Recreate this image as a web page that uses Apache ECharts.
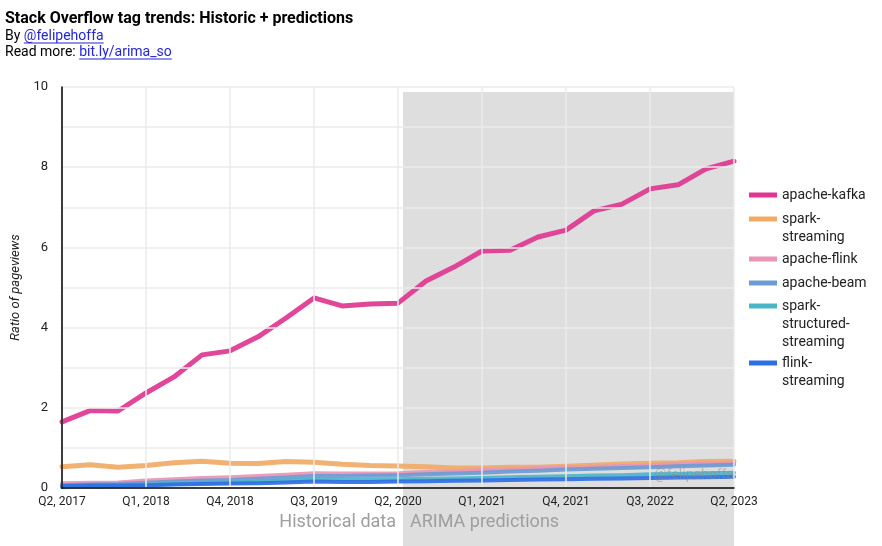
<!DOCTYPE html>
<html>
<head>
<meta charset="utf-8">
<script src="https://cdn.jsdelivr.net/npm/echarts@6/dist/echarts.min.js"></script>
<style>
  html, body { margin: 0; padding: 0; background: #fff; }
  #chart { width: 882px; height: 546px; }
</style>
</head>
<body>
<div id="chart"></div>
<script>
const quarters = [
    "Q2, 2017", "Q3, 2017", "Q4, 2017", "Q1, 2018", "Q2, 2018", "Q3, 2018",
    "Q4, 2018", "Q1, 2019", "Q2, 2019", "Q3, 2019", "Q4, 2019", "Q1, 2020",
    "Q2, 2020", "Q3, 2020", "Q4, 2020", "Q1, 2021", "Q2, 2021", "Q3, 2021",
    "Q4, 2021", "Q1, 2022", "Q2, 2022", "Q3, 2022", "Q4, 2022", "Q1, 2023",
    "Q2, 2023",
];
const apacheKafka = [
    1.65, 1.93, 1.92, 2.37, 2.77, 3.32, 3.42, 3.77, 4.24, 4.74, 4.54, 4.59,
    4.61, 5.16, 5.51, 5.91, 5.93, 6.26, 6.43, 6.91, 7.08, 7.46, 7.56, 7.96, 8.15,
];
const sparkStreaming = [
    0.53, 0.58, 0.52, 0.56, 0.63, 0.67, 0.62, 0.61, 0.66, 0.64, 0.59, 0.56,
    0.55, 0.53, 0.5, 0.5, 0.52, 0.52, 0.54, 0.57, 0.6, 0.62, 0.63, 0.66, 0.67,
];
const apacheFlink = [
    0.12, 0.13, 0.14, 0.19, 0.22, 0.25, 0.27, 0.3, 0.33, 0.37, 0.36, 0.36,
    0.37, 0.4, 0.42, 0.45, 0.47, 0.49, 0.51, 0.53, 0.55, 0.57, 0.59, 0.61, 0.63,
];
const apacheBeam = [
    0.07, 0.09, 0.1, 0.13, 0.16, 0.19, 0.2, 0.23, 0.26, 0.3, 0.3, 0.31,
    0.32, 0.34, 0.36, 0.38, 0.41, 0.43, 0.46, 0.48, 0.5, 0.52, 0.54, 0.56, 0.58,
];
const sparkStructuredStreaming = [
    0.02, 0.04, 0.05, 0.08, 0.1, 0.13, 0.14, 0.16, 0.19, 0.22, 0.21, 0.22,
    0.22, 0.23, 0.24, 0.25, 0.27, 0.28, 0.29, 0.31, 0.32, 0.34, 0.35, 0.37, 0.38,
];
const flinkStreaming = [
    0.05, 0.06, 0.06, 0.07, 0.09, 0.1, 0.11, 0.12, 0.14, 0.16, 0.15, 0.15,
    0.16, 0.17, 0.18, 0.19, 0.2, 0.21, 0.22, 0.23, 0.24, 0.25, 0.26, 0.27, 0.28,
];
const yTicks = [0, 2, 4, 6, 8, 10];

// legend entries: name, wrapped label, top of first text line
const legendItems = [
    ["apache-kafka", "apache-kafka", 186],
    ["spark-streaming", "spark-\nstreaming", 210],
    ["apache-flink", "apache-flink", 250],
    ["apache-beam", "apache-beam", 274],
    ["spark-structured-streaming", "spark-\nstructured-\nstreaming", 297],
    ["flink-streaming", "flink-\nstreaming", 354],
];

function lineSeries(name, data, color, width) {
    return {
        name: name,
        type: "line",
        data: data,
        showSymbol: false,
        symbol: "none",
        color: color,
        lineStyle: { width: width, color: color, opacity: 0.92, join: "round", cap: "round" },
        emphasis: { disabled: true },
    };
}

const font = "Roboto, sans-serif";
const LINE_H = 18;

// one legend per entry; blank lines on top keep the swatch beside the first text line
const legends = legendItems.map(([name, label, top]) => {
    const extraLines = label.split("\n").length - 1;
    const padded = "\n".repeat(extraLines) + label;
    return {
        orient: "vertical",
        left: 749,
        top: top - extraLines * LINE_H,
        padding: 0,
        itemWidth: 28,
        itemHeight: 5,
        icon: "rect",
        data: [name],
        selectedMode: false,
        formatter: () => padded,
        textStyle: { fontSize: 14, color: "#222", lineHeight: LINE_H, fontFamily: font },
    };
});

const chart = echarts.init(document.querySelector("#chart"));
chart.setOption({
    animation: false,
    textStyle: { fontFamily: font },
    grid: { left: 62, right: 148, top: 87, bottom: 58 },
    legend: legends,
    xAxis: {
        type: "category",
        data: quarters,
        boundaryGap: false,
        axisLine: { lineStyle: { color: "#000", width: 1.5 } },
        axisTick: { show: false },
        axisLabel: { interval: 2, color: "#222", fontSize: 12, margin: 8 },
        splitLine: { show: true, interval: 2, lineStyle: { color: "#ebebeb", width: 1.5 } },
        z: 5,
    },
    yAxis: {
        type: "value",
        min: yTicks[0],
        max: yTicks[yTicks.length - 1],
        interval: 2,
        name: "Ratio of pageviews",
        nameLocation: "middle",
        nameGap: 38,
        nameTextStyle: { fontStyle: "italic", fontSize: 13, color: "#222" },
        axisLine: { show: true, lineStyle: { color: "#000", width: 1.5 } },
        axisTick: { show: false },
        axisLabel: { color: "#222", fontSize: 13, margin: 14 },
        splitLine: { lineStyle: { color: "#ebebeb", width: 1.5 } },
        minorTick: { show: false, splitNumber: 2 },
        minorSplitLine: { show: true, lineStyle: { color: "#ebebeb", width: 1.5 } },
        z: 5,
    },
    title: {
        text: "Stack Overflow tag trends: Historic + predictions",
        left: 5,
        top: 11,
        padding: 0,
        textStyle: { fontSize: 16, fontWeight: "bold", color: "#000", fontFamily: font },
    },
    series: [
        lineSeries("apache-kafka", apacheKafka, "#e0368f", 5),
        lineSeries("spark-streaming", sparkStreaming, "#f0aa66", 5),
        lineSeries("apache-flink", apacheFlink, "#e995b6", 4),
        lineSeries("apache-beam", apacheBeam, "#6b9bd3", 4),
        lineSeries("spark-structured-streaming", sparkStructuredStreaming, "#4cb5c8", 4),
        lineSeries("flink-streaming", flinkStreaming, "#2f6fe4", 4),
    ],
});

// background band for the prediction period + captions, placed from the axis scale
const startX = chart.convertToPixel({ xAxisIndex: 0 }, quarters[12]) + 5;
const endX = chart.convertToPixel({ xAxisIndex: 0 }, quarters[quarters.length - 1]);
const topY = chart.convertToPixel({ yAxisIndex: 0 }, yTicks[yTicks.length - 1]) + 5;
const baseY = chart.convertToPixel({ yAxisIndex: 0 }, 0);
const linkBlue = "#2525d8";

const ctx = document.createElement("canvas").getContext("2d");
ctx.font = "14px " + font;
const measure = (t) => ctx.measureText(t).width;

// subtitle lines: plain prefix followed by an underlined link
function creditLine(prefix, link, y) {
    const linkX = 5 + measure(prefix);
    const w = measure(link);
    return [
        { type: "text", x: 5, y: y, style: { text: prefix, verticalAlign: "middle", fill: "#000", font: "14px " + font } },
        { type: "text", x: linkX, y: y, style: { text: link, verticalAlign: "middle", fill: linkBlue, font: "14px " + font } },
        { type: "line", shape: { x1: linkX, y1: y + 7, x2: linkX + w, y2: y + 7 }, style: { stroke: linkBlue, lineWidth: 1 } },
    ];
}

chart.setOption({
    graphic: [
        {
            type: "rect",
            z: -10,
            silent: true,
            shape: { x: startX, y: topY, width: endX - startX, height: 546 - topY },
            style: { fill: "#dedede" },
        },
        {
            type: "text",
            silent: true,
            x: startX - 7,
            y: baseY + 34,
            style: { text: "Historical data", align: "right", verticalAlign: "middle", fill: "#9e9e9e", font: "18px " + font },
        },
        {
            type: "text",
            silent: true,
            x: startX + 7,
            y: baseY + 34,
            style: { text: "ARIMA predictions", align: "left", verticalAlign: "middle", fill: "#9e9e9e", font: "18px " + font },
        },
        {
            type: "text",
            silent: true,
            z: 20,
            x: endX,
            y: baseY - 13,
            style: { text: "@felipehoffa", align: "right", verticalAlign: "middle", fill: "rgba(140,140,140,0.5)", font: "14px " + font },
        },
        ...creditLine("By ", "@felipehoffa", 36),
        ...creditLine("Read more: ", "bit.ly/arima_so", 52),
    ],
});
</script>
</body>
</html>
